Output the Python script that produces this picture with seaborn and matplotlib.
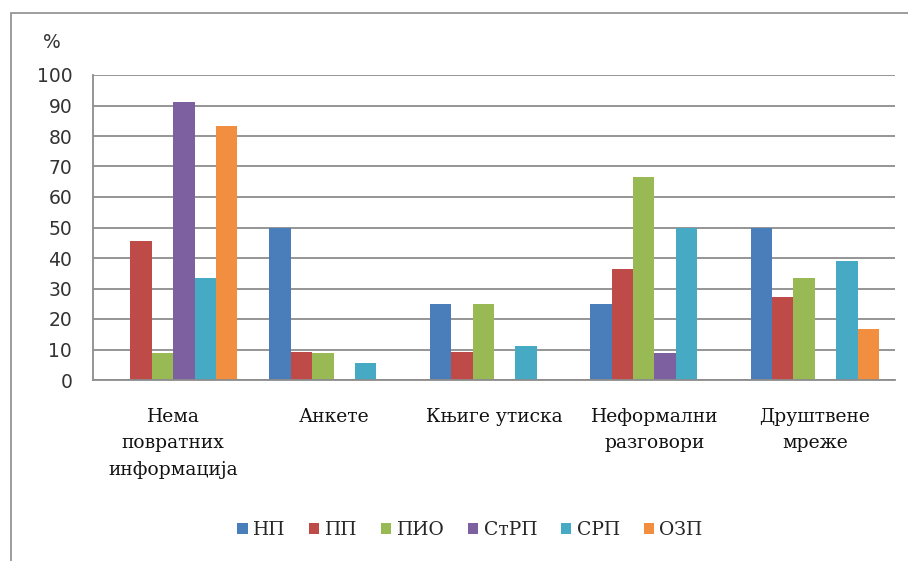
import pandas as pd
import numpy as np
import matplotlib.pyplot as plt
from matplotlib.patches import Rectangle
import seaborn as sns

# ── data ─────────────────────────────────────────────────────────────────────
categories = ['Нема\nповратних\nинформација', 'Анкете', 'Књиге утиска',
              'Неформални\nразговори', 'Друштвене\nмреже']
series = ['НП', 'ПП', 'ПИО', 'СтРП', 'СРП', 'ОЗП']
np_vals   = [0, 50, 25, 25, 50]
pp_vals   = [45.5, 9.1, 9.1, 36.4, 27.3]
pio_vals  = [8.7, 8.7, 25, 66.7, 33.3]
strp_vals = [91.3, 0, 0, 8.7, 0]
srp_vals  = [33.3, 5.6, 11.1, 50, 38.9]
ozp_vals  = [83.3, 0, 0, 0, 16.7]
colors = ['#4A7EBB', '#BE4B48', '#98B954', '#7D60A0', '#46AAC5', '#F28E3F']

rows = []
for s, vals in zip(series, [np_vals, pp_vals, pio_vals, strp_vals, srp_vals, ozp_vals]):
    for c, v in zip(categories, vals):
        rows.append({'cat': c, 'series': s, 'value': v})
df = pd.DataFrame(rows)

sns.set_style('white')
plt.rcParams['font.family'] = ['DejaVu Sans']
serif = ['DejaVu Serif', 'Liberation Serif']

fig = plt.figure(figsize=(9.08, 5.61), dpi=100)
ax = fig.add_axes([93/908, 1-380/561, (895-93)/908, (380-75)/561])

sns.barplot(data=df, x='cat', y='value', hue='series', order=categories,
            hue_order=series, palette=colors, width=0.8, saturation=1,
            ax=ax, legend=True, edgecolor='none')

ax.set_ylim(0, 100)
ax.set_xlim(-0.5, 4.5)
ax.set_yticks(np.arange(0, 101, 10))
ax.yaxis.grid(True, color='#8c8c8c', lw=1.3)
ax.set_axisbelow(True)
ax.set_xlabel('')
ax.set_ylabel('')

for side in ['top', 'right']:
    ax.spines[side].set_visible(False)
for side in ['left', 'bottom']:
    ax.spines[side].set_color('#8c8c8c')
    ax.spines[side].set_linewidth(1.3)

ax.tick_params(axis='y', length=7, width=1.2, color='#8c8c8c',
               labelsize=13.5, labelcolor='#333333', pad=8)
ax.set_xticks(range(len(categories)))
ax.set_xticklabels(categories, family=serif, fontsize=13.5, color='#111111',
                   linespacing=1.6, va='top')
ax.tick_params(axis='x', length=0, pad=20)
ax.set_xticks(np.arange(-0.5, 5, 1), minor=True)
ax.tick_params(axis='x', which='minor', length=5, width=1.2, color='#8c8c8c')

fig.text(52/908, 1-42/561, '%', fontsize=13.5, ha='center', va='center',
         color='#333333')

leg = ax.legend(loc='center', bbox_to_anchor=(470/908, 1-530/561),
                bbox_transform=fig.transFigure, ncol=6, frameon=False,
                prop={'family': serif, 'size': 13.5}, handlelength=0.55,
                handleheight=0.55, handletextpad=0.3, columnspacing=1.25)

fig.patches.append(Rectangle((11/908, -0.1), 1.2, 1 - 13/561 + 0.1,
                             transform=fig.transFigure, fill=False,
                             edgecolor='#8c8c8c', lw=1.2))

plt.savefig('out.png', dpi=100)
